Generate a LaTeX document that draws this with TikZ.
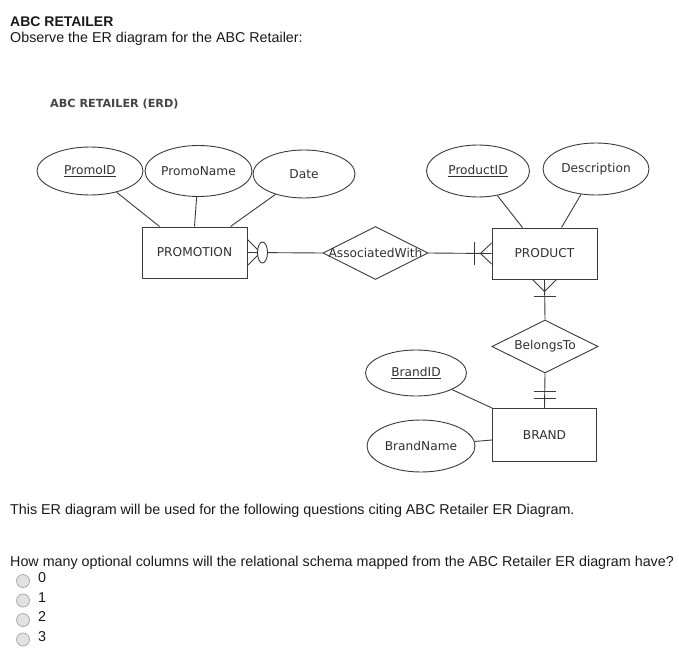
\documentclass[tikz,border=0pt]{standalone}
\usepackage{fontspec}
\setmainfont{Liberation Sans}
\newfontfamily\erfont{DejaVu Sans}
\usetikzlibrary{shapes.geometric}
\definecolor{linec}{HTML}{3A3A3A}
\definecolor{ertext}{HTML}{303030}
\definecolor{radiofill}{HTML}{E2E2E2}
\definecolor{radioedge}{HTML}{A6A6A6}
\tikzset{
  erlabel/.style={font=\erfont\fontsize{12.2}{14}\selectfont, text=ertext},
  entity/.style={erlabel, draw=linec, line width=1pt, rectangle, inner sep=0pt, minimum width=105pt, minimum height=51pt},
  attrib/.style={erlabel, draw=linec, line width=0.9pt, ellipse, inner sep=0pt},
  relship/.style={draw=linec, line width=0.9pt, diamond, inner sep=0pt},
  conn/.style={draw=linec, line width=0.9pt},
  bodytext/.style={font=\fontsize{14.3}{16}\selectfont, anchor=base west, inner sep=0pt, text=black!90},
  radio/.style={circle, draw=radioedge, fill=radiofill, line width=0.7pt, minimum size=13pt, inner sep=0pt}
}
\begin{document}
\begin{tikzpicture}[x=1pt,y=-1pt]
\useasboundingbox (0,0) rectangle (679,652);
% page text
\node[bodytext, font=\bfseries\fontsize{14}{16}\selectfont] (title) at (10,27) {ABC RETAILER};
\node[bodytext] (intro) at (10,42.5) {Observe the ER diagram for the ABC Retailer:};
\node[erlabel, anchor=base west, inner sep=0pt, font=\erfont\bfseries\fontsize{11.2}{13}\selectfont, text=ertext!90] (erdtitle) at (50,107.5) {ABC RETAILER (ERD)};

% entities
\node[entity] (promo) at (194.5,252.5) {PROMOTION};
\node[entity] (prod) at (544.5,253.5) {PRODUCT};
\node[entity, minimum width=104pt, minimum height=53pt] (brand) at (544.5,435) {BRAND};

% relationships
\node[relship, minimum width=105pt, minimum height=53pt] (assoc) at (375.5,253) {};
\node[erlabel] (assoclbl) at (assoc.center) {AssociatedWith};
\node[relship, minimum width=106pt, minimum height=53pt] (bel) at (545,346.5) {};
\node[erlabel] (bellbl) at (bel.center) {BelongsTo};

% attributes
\node[attrib, minimum width=106pt, minimum height=48pt] (pid) at (90,171) {\underline{PromoID}};
\node[attrib, minimum width=107pt, minimum height=51pt] (pname) at (198.5,171) {PromoName};
\node[attrib, minimum width=102pt, minimum height=48pt] (pdate) at (304,174) {Date};
\node[attrib, minimum width=103pt, minimum height=52pt] (prid) at (478,171) {\underline{ProductID}};
\node[attrib, minimum width=106pt, minimum height=52pt] (pdesc) at (596,169) {Description};
\node[attrib, minimum width=101pt, minimum height=46pt] (bid) at (416,373) {\underline{BrandID}};
\node[attrib, minimum width=108pt, minimum height=52pt] (bname) at (421,446) {BrandName};

% attribute connectors
\draw[conn] (pid) -- ([xshift=18pt]promo.north west);
\draw[conn] (pname) -- (promo.north);
\draw[conn] (pdate) -- ([xshift=-17pt]promo.north east);
\draw[conn] (prid) -- ([xshift=31pt]prod.north west);
\draw[conn] (pdesc) -- ([xshift=-36pt]prod.north east);
\draw[conn] (bid) -- (brand.north west);
\draw[conn] (bname) -- ([yshift=-5pt]brand.west);

% PROMOTION -- AssociatedWith (zero or many)
\draw[conn] (promo.east) -- (assoc.west);
\draw[conn] ([yshift=13pt]promo.east) -- ([xshift=13pt]promo.east) -- ([yshift=-13pt]promo.east);
\draw[conn, fill=white] ([xshift=15pt]promo.east) ellipse (5 and 10.5);

% AssociatedWith -- PRODUCT (one or many)
\draw[conn] (assoc.east) -- (prod.west);
\draw[conn] ([yshift=10.5pt]prod.west) -- ([xshift=-11pt]prod.west) -- ([yshift=-10.5pt]prod.west);
\draw[conn] ([xshift=-17pt,yshift=11.5pt]prod.west) -- ([xshift=-17pt,yshift=-11.5pt]prod.west);

% PRODUCT -- BelongsTo (one or many)
\draw[conn] (prod.south) -- (bel.north);
\draw[conn] ([xshift=-12pt]prod.south) -- ([yshift=-12pt]prod.south) -- ([xshift=12pt]prod.south);
\draw[conn] ([xshift=-11pt,yshift=-17pt]prod.south) -- ([xshift=11pt,yshift=-17pt]prod.south);

% BelongsTo -- BRAND (one and only one)
\draw[conn] (bel.south) -- (brand.north);
\draw[conn] ([xshift=-11pt,yshift=16.5pt]brand.north) -- ([xshift=11pt,yshift=16.5pt]brand.north);
\draw[conn] ([xshift=-11pt,yshift=9.5pt]brand.north) -- ([xshift=11pt,yshift=9.5pt]brand.north);

% question text
\node[bodytext] (note) at (10,514) {This ER diagram will be used for the following questions citing ABC Retailer ER Diagram.};
\node[bodytext] (question) at (10,566) {How many optional columns will the relational schema mapped from the ABC Retailer ER diagram have?};

\node[radio] (r0) at (23,581) {};
\node[radio] (r1) at (23,600.5) {};
\node[radio] (r2) at (23,620) {};
\node[radio] (r3) at (23,639.5) {};
\node[bodytext] (a0) at (38,582.5) {0};
\node[bodytext] (a1) at (38,602) {1};
\node[bodytext] (a2) at (38,621.5) {2};
\node[bodytext] (a3) at (38,641) {3};
\end{tikzpicture}
\end{document}
